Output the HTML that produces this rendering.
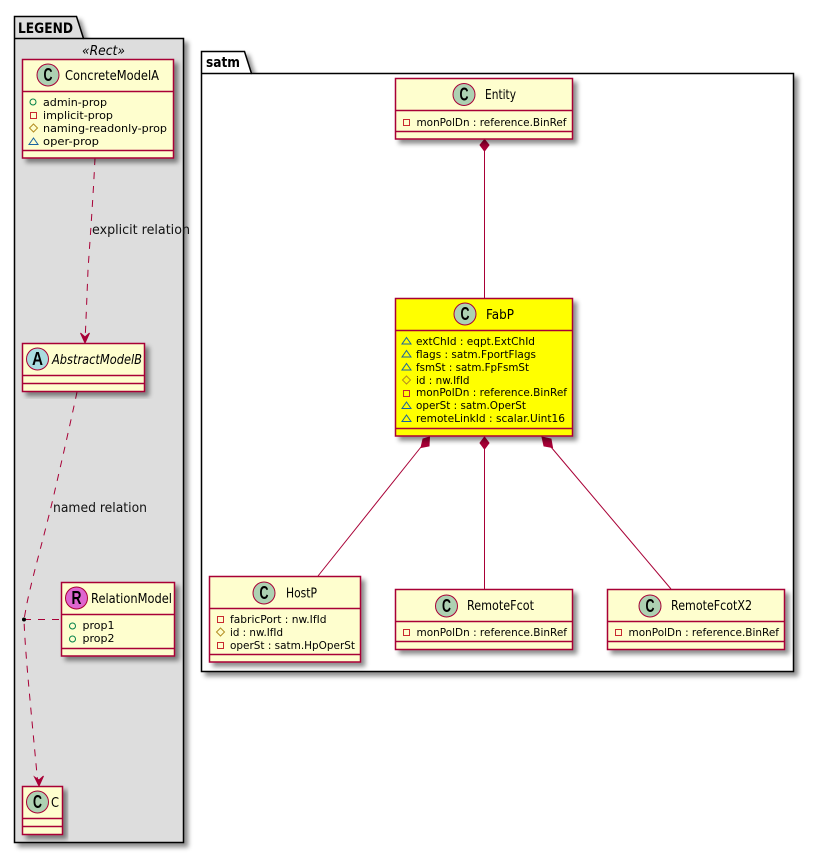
<!DOCTYPE html>
<html><head><meta charset="utf-8"><style>
html,body{margin:0;padding:0;background:#fff}
svg{display:block}
text{font-family:"DejaVu Sans","Liberation Sans",sans-serif;fill:#000}
.a{font-size:11px}
.t{font-size:13px}
.l{font-size:13px}
.b{fill:#FEFECE;stroke:#A80036;stroke-width:1.5}
.h{stroke:#A80036;stroke-width:1.5;fill:none}
.c{stroke:#A80036;stroke-width:1;fill:#ADD1B2}
.k{font-family:"Liberation Sans",sans-serif;font-weight:bold;font-size:18px;text-anchor:middle}
.e{stroke:#A80036;stroke-width:1;fill:none}
.d{stroke-dasharray:7,7}
.dm{fill:#A80036;stroke:#A80036;stroke-width:1}
.pub{fill:none;stroke:#038048;stroke-width:1}
.pri{fill:none;stroke:#C82930;stroke-width:1}
.pro{fill:none;stroke:#B38D22;stroke-width:1}
.pkg{fill:none;stroke:#1963A0;stroke-width:1}
.p{stroke:#000;stroke-width:1.5}
</style></head><body>
<svg width="814" height="853" viewBox="0 0 814 853" xmlns="http://www.w3.org/2000/svg">
<defs><filter id="s" x="-10%" y="-10%" width="125%" height="125%"><feDropShadow dx="4" dy="4" stdDeviation="2.5" flood-color="#000" flood-opacity="0.45"/></filter></defs>
<rect width="814" height="853" fill="#fff"/>

<!-- LEGEND package -->
<g filter="url(#s)"><path class="p" fill="#DDDDDD" d="M14.5 38.5V16.5H76.5L83.5 38.5H183.5V842.5H14.5Z"/></g>
<path class="p" fill="none" d="M14.5 38.5H83.5"/>
<text x="18" y="33" font-weight="bold" font-size="14" textLength="55" lengthAdjust="spacingAndGlyphs">LEGEND</text>
<text x="82" y="55" font-style="italic" class="t" textLength="43" lengthAdjust="spacingAndGlyphs">«Rect»</text>

<!-- satm package -->
<g filter="url(#s)"><path class="p" fill="#fff" d="M201.5 73.5V51.5H244.5L251.5 73.5H793.5V671.5H201.5Z"/></g>
<path class="p" fill="none" d="M201.5 73.5H251.5"/>
<text x="206" y="67" font-weight="bold" font-size="14" textLength="34" lengthAdjust="spacingAndGlyphs">satm</text>

<!-- connectors -->
<path class="e d" d="M95 158C93 200 90 240 88 270C87 295 86 320 85 342"/>
<path class="dm" d="M85 343L89.5 333L85 337L80.5 333Z"/>
<text x="92" y="234" class="l" textLength="98" lengthAdjust="spacingAndGlyphs" style="fill:#111">explicit relation</text>
<path class="e d" d="M77 392C70 425 62 460 55 490C46 530 34 570 27 603L24 619.500C25 650 30 700 38 785"/>
<path class="dm" d="M39 786L43.500 776L39 780L34.500 777Z"/>
<text x="53" y="512" class="l" textLength="94" lengthAdjust="spacingAndGlyphs" style="fill:#111">named relation</text>
<path class="e" stroke-dasharray="7,7" d="M24 619.500H61"/>
<circle cx="24" cy="619.500" r="2" fill="#000"/>

<path class="e" d="M484.500 150V298"/>
<path class="dm" d="M484.500 139.500L489 145L484.500 151L480 145Z"/>
<path class="e" d="M484.500 449V589"/>
<path class="dm" d="M484.500 437L489 443L484.500 449L480 443Z"/>
<path class="e" d="M421 447L318 576"/>
<path class="dm" d="M429.500 437L429 446L421 447.500L423 439Z"/>
<path class="e" d="M551 447L671 589"/>
<path class="dm" d="M542 437L551 439L552.500 447.500L544 446Z"/>

<!-- ConcreteModelA -->
<g filter="url(#s)"><rect class="b" x="22.500" y="59.500" width="151" height="98.500"/></g>
<path class="h" d="M22.500 91.500H173.500M22.500 150.500H173.500"/>
<circle class="c" cx="48" cy="75" r="11"/><text class="k" x="48" y="81" textLength="9" lengthAdjust="spacingAndGlyphs">C</text>
<text class="t" x="65" y="80" textLength="94" lengthAdjust="spacingAndGlyphs">ConcreteModelA</text>
<circle class="pub" cx="33" cy="102" r="3"/><text class="a" x="43" y="106" textLength="64" lengthAdjust="spacingAndGlyphs">admin-prop</text>
<rect class="pri" x="30.500" y="112.500" width="6" height="6"/><text class="a" x="43" y="119" textLength="70" lengthAdjust="spacingAndGlyphs">implicit-prop</text>
<path class="pro" d="M33.500 124L37.500 128L33.500 132L29.500 128Z"/><text class="a" x="43" y="132" textLength="124" lengthAdjust="spacingAndGlyphs">naming-readonly-prop</text>
<path class="pkg" d="M33.500 138L38 144.500H29Z"/><text class="a" x="43" y="145" textLength="56" lengthAdjust="spacingAndGlyphs">oper-prop</text>

<!-- AbstractModelB -->
<g filter="url(#s)"><rect class="b" x="22.500" y="343.500" width="122" height="48"/></g>
<path class="h" d="M22.500 375.500H144.500M22.500 383.500H144.500"/>
<circle class="c" style="fill:#A9DCDF" cx="37.500" cy="359" r="11"/><text class="k" x="37.500" y="365" textLength="11" lengthAdjust="spacingAndGlyphs">A</text>
<text class="t" x="52" y="364" font-style="italic" textLength="90" lengthAdjust="spacingAndGlyphs">AbstractModelB</text>

<!-- RelationModel -->
<g filter="url(#s)"><rect class="b" x="61.500" y="582.500" width="113" height="73.500"/></g>
<path class="h" d="M61.500 614.500H174.500M61.500 648.500H174.500"/>
<circle class="c" style="fill:#DE66CF" cx="76.500" cy="598" r="11"/><text class="k" x="76.500" y="604" textLength="10" lengthAdjust="spacingAndGlyphs">R</text>
<text class="t" x="91" y="603" textLength="81" lengthAdjust="spacingAndGlyphs">RelationModel</text>
<circle class="pub" cx="72.500" cy="626" r="3"/><text class="a" x="82.500" y="629" textLength="32" lengthAdjust="spacingAndGlyphs">prop1</text>
<circle class="pub" cx="72.500" cy="639" r="3"/><text class="a" x="82.500" y="642" textLength="32" lengthAdjust="spacingAndGlyphs">prop2</text>

<!-- C -->
<g filter="url(#s)"><rect class="b" x="22.500" y="786.500" width="40" height="48"/></g>
<path class="h" d="M22.500 818.500H62.500M22.500 826.500H62.500"/>
<circle class="c" cx="37.500" cy="802" r="11"/><text class="k" x="37.500" y="808" textLength="9" lengthAdjust="spacingAndGlyphs">C</text>
<text class="t" x="51" y="807" textLength="8" lengthAdjust="spacingAndGlyphs">C</text>

<!-- Entity -->
<g filter="url(#s)"><rect class="b" x="395.500" y="78.500" width="177" height="60.500"/></g>
<path class="h" d="M395.500 110.500H572.500M395.500 131.500H572.500"/>
<circle class="c" cx="464" cy="94.500" r="11"/><text class="k" x="464" y="100.500" textLength="9" lengthAdjust="spacingAndGlyphs">C</text>
<text class="t" x="485" y="99" textLength="31" lengthAdjust="spacingAndGlyphs">Entity</text>
<rect class="pri" x="403.500" y="119.500" width="6" height="6"/><text class="a" x="416.500" y="126" textLength="150" lengthAdjust="spacingAndGlyphs">monPolDn : reference.BinRef</text>

<!-- FabP -->
<g filter="url(#s)"><rect class="b" style="fill:#FFFF00" x="395.500" y="298.500" width="177" height="137.500"/></g>
<path class="h" d="M395.500 330.500H572.500M395.500 428.500H572.500"/>
<circle class="c" cx="465" cy="314" r="11"/><text class="k" x="465" y="320" textLength="9" lengthAdjust="spacingAndGlyphs">C</text>
<text class="t" x="486" y="319" textLength="28" lengthAdjust="spacingAndGlyphs">FabP</text>
<path class="pkg" d="M406.500 337.500L411 344H402Z"/><text class="a" x="416" y="345" textLength="119" lengthAdjust="spacingAndGlyphs">extChId : eqpt.ExtChId</text>
<path class="pkg" d="M406.500 350.500L411 357H402Z"/><text class="a" x="416" y="358" textLength="120" lengthAdjust="spacingAndGlyphs">flags : satm.FportFlags</text>
<path class="pkg" d="M406.500 363.500L411 370H402Z"/><text class="a" x="416" y="371" textLength="113" lengthAdjust="spacingAndGlyphs">fsmSt : satm.FpFsmSt</text>
<path class="pro" d="M406.500 376L410.500 380L406.500 384L402.500 380Z"/><text class="a" x="416" y="384" textLength="53.500" lengthAdjust="spacingAndGlyphs">id : nw.IfId</text>
<rect class="pri" x="403.500" y="390.500" width="6" height="6"/><text class="a" x="416" y="396" textLength="151" lengthAdjust="spacingAndGlyphs">monPolDn : reference.BinRef</text>
<path class="pkg" d="M406.500 402L411 408.500H402Z"/><text class="a" x="416" y="409" textLength="110" lengthAdjust="spacingAndGlyphs">operSt : satm.OperSt</text>
<path class="pkg" d="M406.500 415L411 421.500H402Z"/><text class="a" x="416" y="422" textLength="149" lengthAdjust="spacingAndGlyphs">remoteLinkId : scalar.Uint16</text>

<!-- HostP -->
<g filter="url(#s)"><rect class="b" x="209.500" y="576.500" width="151" height="85.500"/></g>
<path class="h" d="M209.500 608.500H360.500M209.500 654.500H360.500"/>
<circle class="c" cx="264" cy="593" r="11"/><text class="k" x="264" y="599" textLength="9" lengthAdjust="spacingAndGlyphs">C</text>
<text class="t" x="286" y="597.500" textLength="31" lengthAdjust="spacingAndGlyphs">HostP</text>
<rect class="pri" x="217.500" y="616.500" width="6" height="6"/><text class="a" x="230" y="623" textLength="96.500" lengthAdjust="spacingAndGlyphs">fabricPort : nw.IfId</text>
<path class="pro" d="M220.500 628L224.500 632L220.500 636L216.500 632Z"/><text class="a" x="230" y="636" textLength="53" lengthAdjust="spacingAndGlyphs">id : nw.IfId</text>
<rect class="pri" x="217.500" y="642.500" width="6" height="6"/><text class="a" x="230" y="649" textLength="125" lengthAdjust="spacingAndGlyphs">operSt : satm.HpOperSt</text>

<!-- RemoteFcot -->
<g filter="url(#s)"><rect class="b" x="395.500" y="589.500" width="177" height="60"/></g>
<path class="h" d="M395.500 621.500H572.500M395.500 641.500H572.500"/>
<circle class="c" cx="446.500" cy="606" r="11"/><text class="k" x="446.500" y="612" textLength="9" lengthAdjust="spacingAndGlyphs">C</text>
<text class="t" x="467" y="610" textLength="67" lengthAdjust="spacingAndGlyphs">RemoteFcot</text>
<rect class="pri" x="403.500" y="629.500" width="6" height="6"/><text class="a" x="416.500" y="636" textLength="150.500" lengthAdjust="spacingAndGlyphs">monPolDn : reference.BinRef</text>

<!-- RemoteFcotX2 -->
<g filter="url(#s)"><rect class="b" x="607.500" y="589.500" width="177" height="60"/></g>
<path class="h" d="M607.500 621.500H784.500M607.500 641.500H784.500"/>
<circle class="c" cx="650" cy="606" r="11"/><text class="k" x="650" y="612" textLength="9" lengthAdjust="spacingAndGlyphs">C</text>
<text class="t" x="671" y="610" textLength="81" lengthAdjust="spacingAndGlyphs">RemoteFcotX2</text>
<rect class="pri" x="615.500" y="629.500" width="6" height="6"/><text class="a" x="628.500" y="636" textLength="150.500" lengthAdjust="spacingAndGlyphs">monPolDn : reference.BinRef</text>
</svg>
</body></html>
